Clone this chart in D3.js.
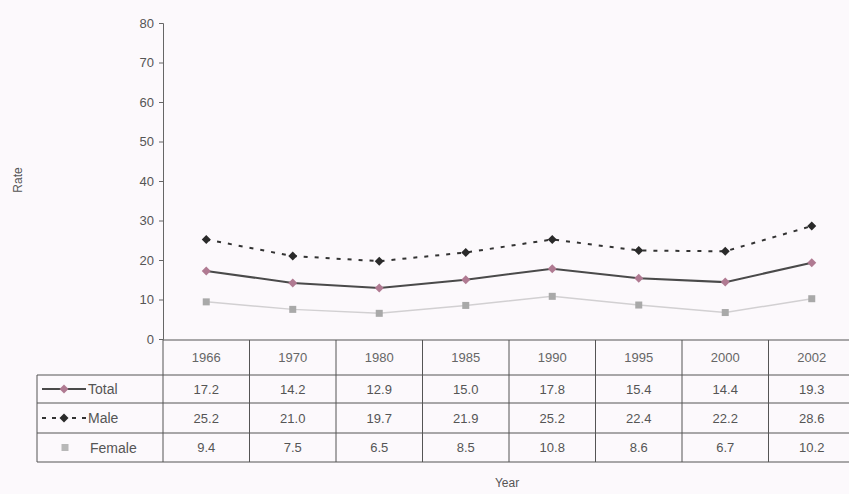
<!DOCTYPE html>
<html>
<head>
<meta charset="utf-8">
<script src="https://cdn.jsdelivr.net/npm/d3@7"></script>
<style>
  body { margin: 0; background: #fcf9fc; }
  svg { display: block; font-family: "Liberation Sans", Arial, sans-serif; }
</style>
</head>
<body>
<svg id="chart" width="849" height="494"></svg>
<script>
// data
var years = ["1966", "1970", "1980", "1985", "1990", "1995", "2000", "2002"];
var totalRates = [17.2, 14.2, 12.9, 15.0, 17.8, 15.4, 14.4, 19.3];
var maleRates = [25.2, 21.0, 19.7, 21.9, 25.2, 22.4, 22.2, 28.6];
var femaleRates = [9.4, 7.5, 6.5, 8.5, 10.8, 8.6, 6.7, 10.2];
var yTicks = [0, 10, 20, 30, 40, 50, 60, 70, 80];

var series = [
    {name: "Total", values: totalRates, line: "#4a4a4a", dash: null, marker: "diamond", fill: "#b07a92", width: 2},
    {name: "Male", values: maleRates, line: "#333", dash: "4,7", marker: "diamond", fill: "#2a2a2a", width: 2},
    {name: "Female", values: femaleRates, line: "#d2d0d2", dash: null, marker: "square", fill: "#a9a9a9", width: 1.5}
];

var svg = d3.select("#chart");
var plotLeft = 163, plotTop = 23, plotBottom = 339;
var colW = 86.5;

var x = d3.scaleBand().domain(years).range([plotLeft, plotLeft + colW * years.length]);
var y = d3.scaleLinear().domain([0, 80]).range([plotBottom, plotTop]);

// y axis
var yAxis = svg.append("g")
    .attr("transform", "translate(" + plotLeft + ",0)")
    .call(d3.axisLeft(y).tickValues(yTicks).tickSize(4).tickPadding(5));
yAxis.select(".domain").attr("stroke", "#666");
yAxis.selectAll(".tick line").attr("stroke", "#666");
yAxis.selectAll(".tick text").attr("fill", "#555").style("font-size", "13px");

svg.append("text")
    .attr("transform", "translate(22,180) rotate(-90)")
    .attr("text-anchor", "middle")
    .attr("fill", "#555")
    .style("font-size", "12px")
    .text("Rate");

// lines + markers
var line = d3.line()
    .x((d, i) => x(years[i]) + x.bandwidth() / 2)
    .y(d => y(d));

function drawMarker(g, kind, cx, cy, fill) {
    if (kind == "diamond") {
        var r = 4.5;
        g.append("path")
            .attr("d", "M0," + (-r) + "L" + r + ",0L0," + r + "L" + (-r) + ",0Z")
            .attr("transform", "translate(" + cx + "," + cy + ")")
            .attr("fill", fill);
    } else {
        g.append("rect")
            .attr("x", cx - 3.5).attr("y", cy - 3.5)
            .attr("width", 7).attr("height", 7)
            .attr("fill", fill);
    }
}

series.forEach(function (s) {
    var g = svg.append("g").attr("class", "series");
    g.append("path")
        .attr("d", line(s.values))
        .attr("fill", "none")
        .attr("stroke", s.line)
        .attr("stroke-width", s.width)
        .attr("stroke-dasharray", s.dash);
    s.values.forEach(function (v, i) {
        drawMarker(g, s.marker, x(years[i]) + x.bandwidth() / 2, y(v), s.fill);
    });
});

// data table
var table = svg.append("g").attr("class", "table");
var rowTop = [340, 375, 403, 433, 462];
var tableLeft = 37, tableRight = plotLeft + colW * years.length;
var stroke = "#555";

table.append("line").attr("x1", plotLeft).attr("x2", tableRight)
    .attr("y1", rowTop[0]).attr("y2", rowTop[0]).attr("stroke", stroke);
rowTop.slice(1).forEach(function (ry) {
    table.append("line").attr("x1", tableLeft).attr("x2", tableRight)
        .attr("y1", ry).attr("y2", ry).attr("stroke", stroke);
});
table.append("line").attr("x1", tableLeft).attr("x2", tableLeft)
    .attr("y1", rowTop[1]).attr("y2", rowTop[4]).attr("stroke", stroke);
years.forEach(function (yr) {
    table.append("line").attr("x1", x(yr)).attr("x2", x(yr))
        .attr("y1", rowTop[0]).attr("y2", rowTop[4]).attr("stroke", stroke);
});

table.selectAll(".year-label")
    .data(years).enter()
    .append("text")
    .attr("x", d => x(d) + x.bandwidth() / 2)
    .attr("y", (rowTop[0] + rowTop[1]) / 2 + 4.5)
    .attr("text-anchor", "middle")
    .attr("fill", "#666")
    .style("font-size", "13px")
    .text(d => d);

series.forEach(function (s, r) {
    var cy = (rowTop[r + 1] + rowTop[r + 2]) / 2;
    s.values.forEach(function (v, i) {
        table.append("text")
            .attr("x", x(years[i]) + x.bandwidth() / 2)
            .attr("y", cy + 4.5)
            .attr("text-anchor", "middle")
            .attr("fill", "#555")
            .style("font-size", "13px")
            .text(v.toFixed(1));
    });
    // legend key in first column
    if (s.name == "Female") {
        drawMarker(table, s.marker, 65, cy, "#b8b8b8");
    } else {
        table.append("line")
            .attr("x1", 42).attr("x2", 86)
            .attr("y1", cy).attr("y2", cy)
            .attr("stroke", s.line)
            .attr("stroke-width", s.width)
            .attr("stroke-dasharray", s.dash ? "4,6" : null);
        drawMarker(table, s.marker, 64, cy, s.fill);
    }
    table.append("text")
        .attr("x", s.name == "Female" ? 90 : 88)
        .attr("y", cy + 5)
        .attr("fill", "#555")
        .style("font-size", "14px")
        .text(s.name);
});

svg.append("text")
    .attr("x", 507).attr("y", 487)
    .attr("text-anchor", "middle")
    .attr("fill", "#555")
    .style("font-size", "12px")
    .text("Year");
</script>
</body>
</html>
